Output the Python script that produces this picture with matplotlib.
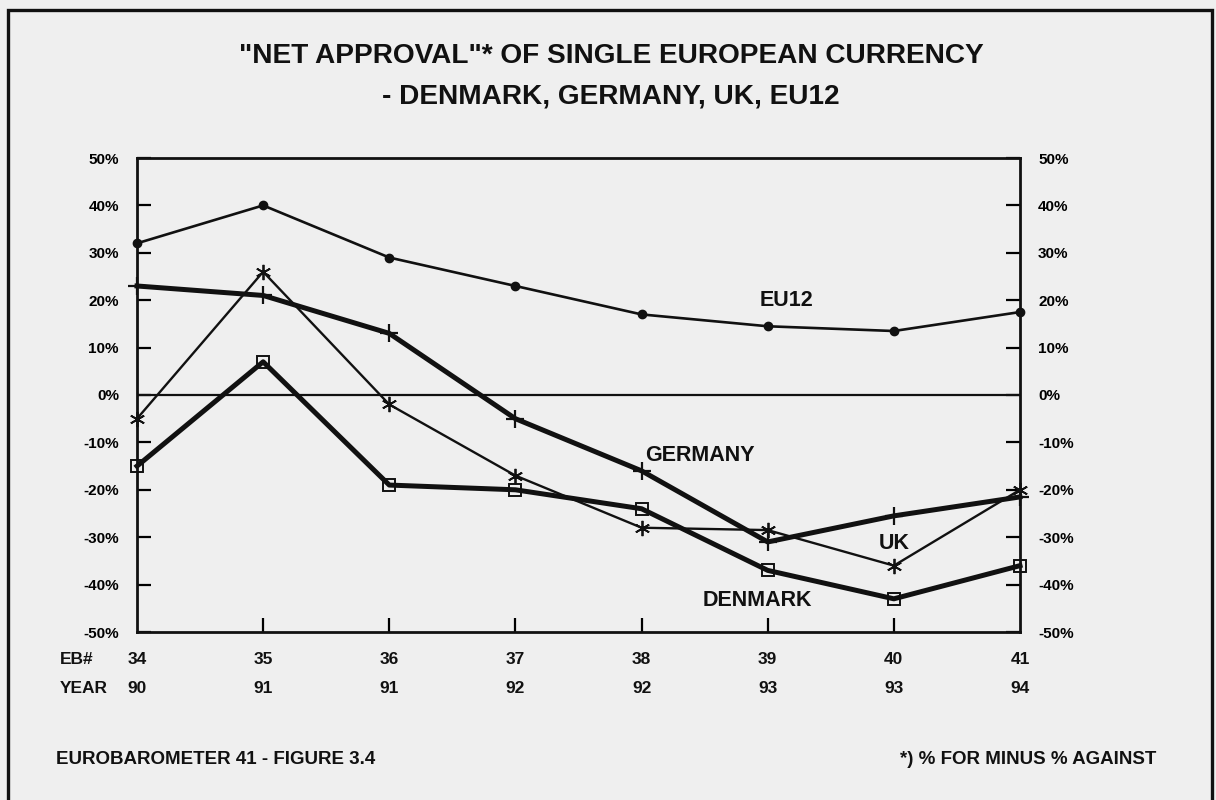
import matplotlib.pyplot as plt
from matplotlib.patches import Rectangle

# survey waves and years
eb = [34, 35, 36, 37, 38, 39, 40, 41]
years = ["90", "91", "91", "92", "92", "93", "93", "94"]

# net approval (% for minus % against)
eu12 = [32, 40, 29, 23, 17, 14.5, 13.5, 17.5]
germany = [23, 21, 13, -5, -16, -31, -25.5, -21.5]
uk = [-5, 26, -2, -17, -28, -28.5, -36, -20]
denmark = [-15, 7, -19, -20, -24, -37, -43, -36]

yticks = list(range(-50, 51, 10))

plt.rcParams['font.family'] = ['Liberation Sans', 'DejaVu Sans']
bg = '#efefef'
ink = '#111111'

fig = plt.figure(figsize=(12.16, 8.0), dpi=100, facecolor=bg)
ax = fig.add_axes([137/1216, 1-632/800, 883/1216, 474/800], facecolor=bg)

ax.plot(eb, eu12, color=ink, lw=1.9, marker='o', ms=6, clip_on=False, zorder=4)
ax.plot(eb, germany, color=ink, lw=3.6, marker='+', ms=13, mew=1.6, clip_on=False, zorder=4)
ax.plot(eb, uk, color=ink, lw=1.7, marker=(6, 2, 0), ms=11, mew=1.3, clip_on=False, zorder=4)
ax.plot(eb, denmark, color=ink, lw=3.6, marker='s', ms=8, mfc='none', mew=1.4,
        clip_on=False, zorder=4)
ax.axhline(0, color=ink, lw=1.6, zorder=3)

ax.set_xlim(34, 41)
ax.set_ylim(-50, 50)
ax.set_xticks(eb[1:-1])
ax.set_xticklabels([])
ax.set_yticks(yticks)
ax.set_yticklabels([f"{v}%" for v in yticks])
ax.tick_params(axis='y', direction='in', length=10, width=1.6, labelsize=11,
               pad=13, left=True, right=True, labelleft=True, labelright=True)
ax.tick_params(axis='x', direction='in', length=10, width=1.6)
for t in ax.yaxis.get_major_ticks():
    t.label1.set_fontweight('bold')
    t.label2.set_fontweight('bold')
for sp in ax.spines.values():
    sp.set_linewidth(2.0)
    sp.set_color(ink)

# x labels: EB number and year rows
tr = ax.get_xaxis_transform()
for x, yr in zip(eb, years):
    ax.text(x, -0.057, str(x), transform=tr, ha='center', va='center',
            fontsize=12.5, fontweight='bold', color=ink)
    ax.text(x, -0.12, yr, transform=tr, ha='center', va='center',
            fontsize=12.5, fontweight='bold', color=ink)
ax.text(-0.087, -0.057, "EB#", transform=ax.transAxes, ha='left', va='center',
        fontsize=12.5, fontweight='bold', color=ink)
ax.text(-0.087, -0.12, "YEAR", transform=ax.transAxes, ha='left', va='center',
        fontsize=12.5, fontweight='bold', color=ink)

# series labels
lab = dict(fontsize=15.5, fontweight='bold', ha='center', va='center', color=ink)
ax.text(39.15, 20, "EU12", **lab)
ax.text(38.46, -12.7, "GERMANY", **lab)
ax.text(40.0, -31.3, "UK", **lab)
ax.text(38.92, -43.3, "DENMARK", **lab)

# title
fig.text(611/1216, 1-56/800, "\"NET APPROVAL\"* OF SINGLE EUROPEAN CURRENCY",
         ha='center', va='center', fontsize=20.2, fontweight='bold', color=ink)
fig.text(611/1216, 1-96/800, "- DENMARK, GERMANY, UK, EU12",
         ha='center', va='center', fontsize=20.2, fontweight='bold', color=ink)

# footer
fig.text(56/1216, 1-760/800, "EUROBAROMETER 41 - FIGURE 3.4",
         ha='left', va='center', fontsize=13.5, fontweight='bold', color=ink)
fig.text(1156/1216, 1-760/800, "*) % FOR MINUS % AGAINST",
         ha='right', va='center', fontsize=13.5, fontweight='bold', color=ink)

# outer frame
fig.patches.append(Rectangle((8/1216, -0.02), 1204/1216, 1.02-10/800,
                             transform=fig.transFigure, fill=False,
                             lw=2.4, edgecolor=ink))

fig.savefig("out.png", dpi=100, facecolor=bg)
